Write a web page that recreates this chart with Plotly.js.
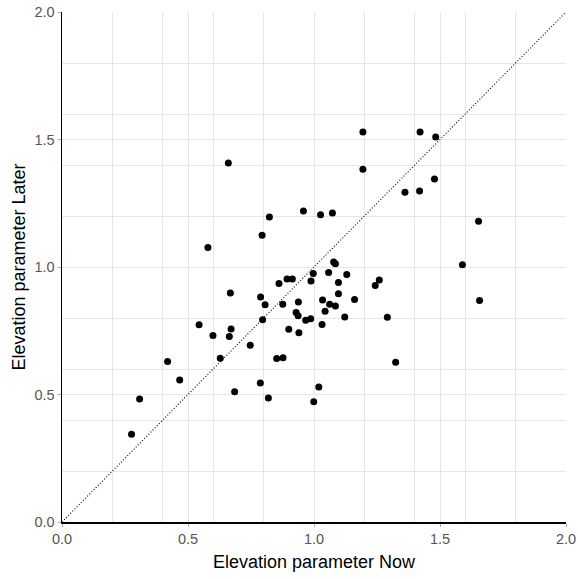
<!DOCTYPE html>
<html>
<head>
<meta charset="utf-8">
<script src="https://cdn.plot.ly/plotly-3.0.1.min.js"></script>
<style>html,body{margin:0;padding:0;background:#fff;}#chart{width:578px;height:579px;}</style>
</head>
<body>
<div id="chart"></div>
<script>
const elevationNow = [0.276,0.308,0.419,0.467,0.544,0.579,0.599,0.628,0.660,0.664,0.668,0.671,0.685,0.747,0.787,0.788,0.794,0.796,0.806,0.819,0.823,0.852,0.861,0.876,0.877,0.893,0.900,0.914,0.929,0.937,0.938,0.940,0.958,0.967,0.987,0.988,0.997,0.999,1.019,1.026,1.032,1.034,1.044,1.058,1.062,1.073,1.078,1.085,1.085,1.097,1.097,1.122,1.130,1.161,1.194,1.194,1.243,1.259,1.291,1.324,1.361,1.419,1.421,1.478,1.483,1.589,1.653,1.657];
const elevationLater = [0.344,0.482,0.629,0.557,0.774,1.076,0.731,0.642,1.408,0.727,0.898,0.757,0.511,0.693,0.545,0.882,1.125,0.793,0.852,0.486,1.196,0.641,0.935,0.854,0.644,0.953,0.756,0.953,0.822,0.809,0.863,0.742,1.220,0.791,0.797,0.945,0.975,0.472,0.529,1.205,0.775,0.871,0.826,0.978,0.854,1.212,1.020,1.013,0.847,0.939,0.895,0.804,0.971,0.873,1.529,1.383,0.927,0.949,0.803,0.626,1.293,1.298,1.529,1.345,1.510,1.009,1.179,0.869];
const identityLine = [0, 2];
const axisRange = [0, 2];

const points = {
  x: elevationNow, y: elevationLater, type: 'scatter', mode: 'markers',
  marker: {color: '#000000', size: 7}, hoverinfo: 'x+y', cliponaxis: false
};
const diag = {
  x: identityLine, y: identityLine, type: 'scatter', mode: 'lines',
  line: {color: '#111111', width: 1.2, dash: '1px,2px'}, hoverinfo: 'skip'
};

const axisCommon = {
  range: axisRange, dtick: 0.5, tick0: 0, tickformat: '.1f',
  showgrid: true, gridcolor: '#e6e6e6', gridwidth: 1,
  minor: {dtick: 0.2, tick0: 0, showgrid: true, gridcolor: '#e6e6e6', gridwidth: 1},
  zeroline: false, showline: true, linecolor: '#000000', linewidth: 1.5,
  ticks: 'outside', ticklen: 3, tickwidth: 1, tickcolor: '#aaaaaa',
  tickfont: {family: 'Liberation Sans, Arial, sans-serif', size: 14.5, color: '#555555'},
  fixedrange: true
};

const layout = {
  width: 578, height: 579,
  margin: {l: 62, r: 12, t: 12, b: 57},
  paper_bgcolor: '#ffffff', plot_bgcolor: '#ffffff',
  showlegend: false,
  xaxis: Object.assign({}, axisCommon, {
    title: {text: 'Elevation parameter Now', font: {family: 'Liberation Sans, Arial, sans-serif', size: 18, color: '#000000'}, standoff: 9}
  }),
  yaxis: Object.assign({}, axisCommon, {
    title: {text: 'Elevation parameter Later', font: {family: 'Liberation Sans, Arial, sans-serif', size: 18, color: '#000000'}, standoff: 4}
  })
};

Plotly.newPlot('chart', [diag, points], layout, {displayModeBar: false, staticPlot: true});
</script>
</body>
</html>
